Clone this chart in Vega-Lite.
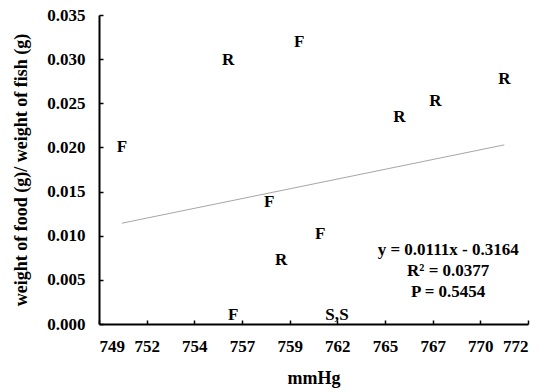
{
  "$schema": "https://vega.github.io/schema/vega-lite/v6.json",
  "width": 429,
  "height": 309,
  "autosize": {"type": "none"},
  "padding": {"left": 99, "top": 15, "right": 16, "bottom": 68},
  "background": "white",
  "config": {
    "view": {"stroke": null},
    "font": "Liberation Serif",
    "axis": {
      "grid": false,
      "domainColor": "black",
      "domainWidth": 2,
      "tickColor": "black",
      "tickWidth": 1.5,
      "labelFont": "Liberation Serif",
      "labelFontWeight": "bold",
      "labelFontSize": 17,
      "labelColor": "black",
      "titleFont": "Liberation Serif",
      "titleFontWeight": "bold",
      "titleFontSize": 18,
      "titleColor": "black"
    }
  },
  "datasets": {
    "pts": [
      {"p": 750.48, "v": 0.0201, "lab": "F"},
      {"p": 756.17, "v": 0.0299, "lab": "R"},
      {"p": 759.98, "v": 0.0319, "lab": "F"},
      {"p": 765.35, "v": 0.0235, "lab": "R"},
      {"p": 767.28, "v": 0.0253, "lab": "R"},
      {"p": 770.98, "v": 0.0277, "lab": "R"},
      {"p": 758.37, "v": 0.0138, "lab": "F"},
      {"p": 761.11, "v": 0.0102, "lab": "F"},
      {"p": 759.01, "v": 0.0073, "lab": "R"},
      {"p": 756.44, "v": 0.0010, "lab": "F"},
      {"p": 761.75, "v": 0.0010, "lab": "S,"},
      {"p": 762.38, "v": 0.0010, "lab": "S"}
    ],
    "trend": [
      {"p": 750.48, "v": 0.01142},
      {"p": 770.98, "v": 0.02029}
    ],
    "stats": [
      {"p": 767.97, "v": 0.00839, "t": "y = 0.0111x - 0.3164"},
      {"p": 767.97, "v": 0.00601, "t": "R² = 0.0377"},
      {"p": 767.97, "v": 0.00363, "t": "P = 0.5454"}
    ]
  },
  "layer": [
    {
      "data": {"name": "trend"},
      "mark": {"type": "line", "color": "#a6a6a6", "strokeWidth": 1},
      "encoding": {
        "x": {
          "field": "p", "type": "quantitative",
          "scale": {"domain": [749.25, 772.25], "nice": false, "zero": false},
          "axis": {
            "title": "mmHg",
            "titlePadding": 15,
            "values": [749.25, 751.8056, 754.3611, 756.9167, 759.4722, 762.0278, 764.5833, 767.1389, 769.6944, 772.25],
            "labelExpr": "format(datum.value, '.0f')",
            "tickSize": -4,
            "labelPadding": 18
          }
        },
        "y": {
          "field": "v", "type": "quantitative",
          "scale": {"domain": [0, 0.035], "nice": false},
          "axis": {
            "title": "weight of food (g)/ weight of fish (g)",
            "values": [0, 0.005, 0.01, 0.015, 0.02, 0.025, 0.03, 0.035],
            "format": ".3f",
            "tickSize": -4,
            "labelPadding": 18,
            "titlePadding": 16
          }
        }
      }
    },
    {
      "data": {"name": "pts"},
      "mark": {"type": "text", "font": "Liberation Serif", "fontWeight": "bold", "fontSize": 17, "color": "black", "baseline": "middle", "align": "center"},
      "encoding": {
        "x": {"field": "p", "type": "quantitative"},
        "y": {"field": "v", "type": "quantitative"},
        "text": {"field": "lab"}
      }
    },
    {
      "data": {"name": "stats"},
      "mark": {"type": "text", "font": "Liberation Serif", "fontWeight": "bold", "fontSize": 17, "color": "black", "baseline": "middle", "align": "center"},
      "encoding": {
        "x": {"field": "p", "type": "quantitative"},
        "y": {"field": "v", "type": "quantitative"},
        "text": {"field": "t"}
      }
    }
  ]
}
